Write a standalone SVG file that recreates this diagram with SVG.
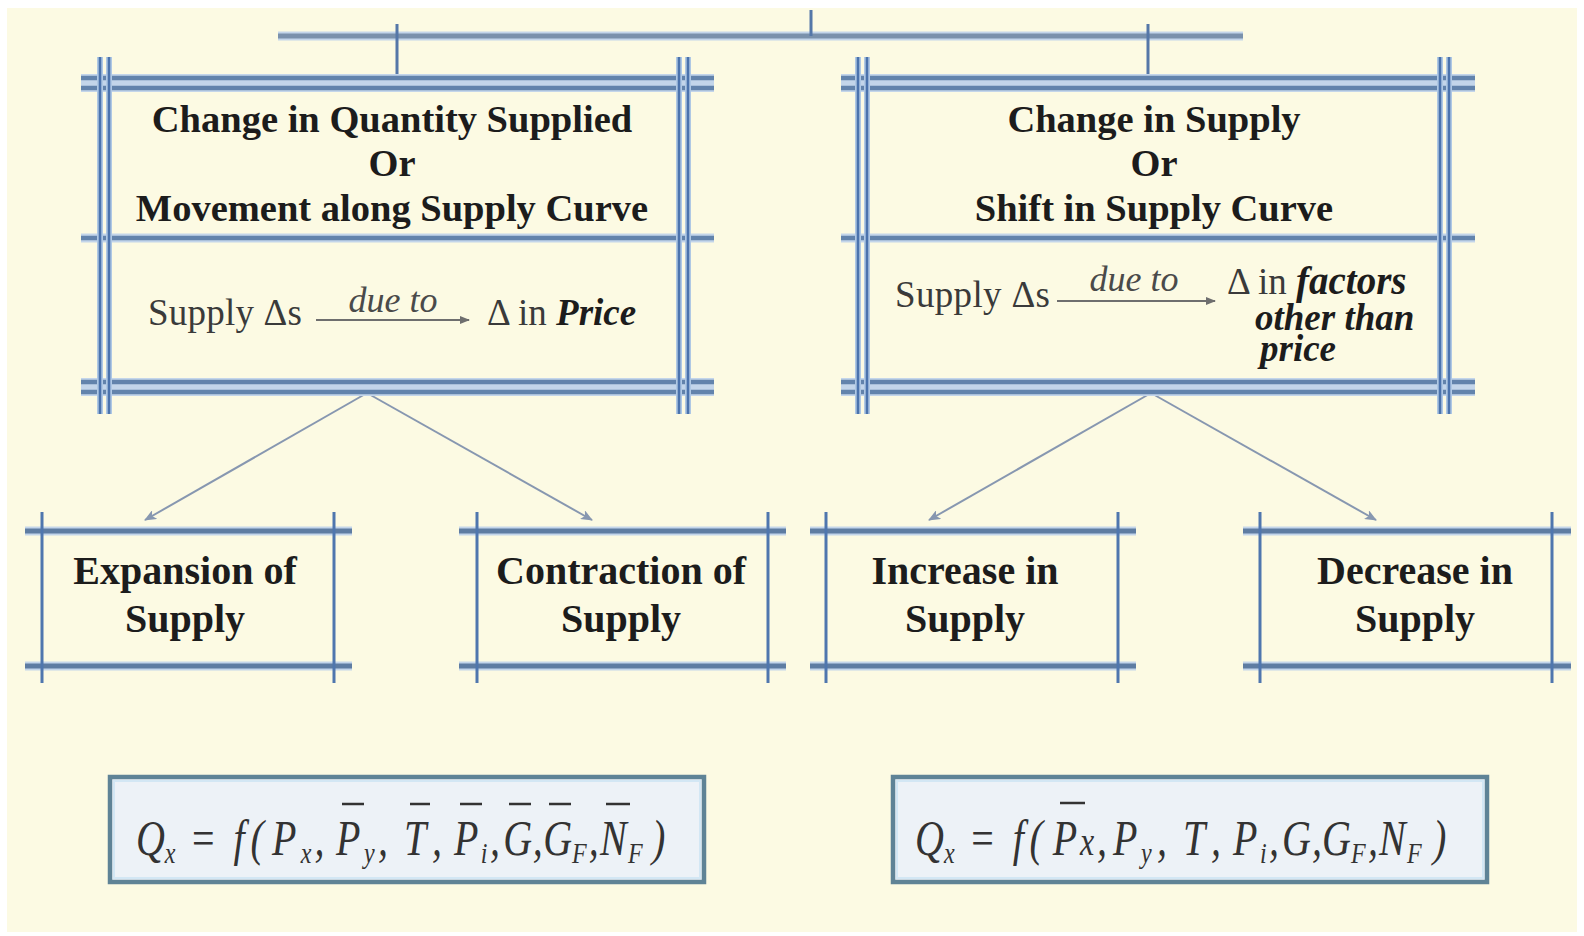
<svg xmlns="http://www.w3.org/2000/svg" width="1584" height="936" viewBox="0 0 1584 936">
<defs>
<style>
.bg{fill:#FCFAE3}
.hh{stroke:#C3D5EA;stroke-width:18;fill:none}
.hs{stroke:#C3D5EA;stroke-width:9;fill:none}
.hd{stroke:#6283AC;stroke-width:4.5;fill:none}
.vh{stroke:#AFC8E4;stroke-width:6;fill:none}
.vd{stroke:#4B73AD;stroke-width:2.6;fill:none}
.lh{stroke:#5E7CA2;stroke-width:5;fill:none}
.lv{stroke:#4F76AE;stroke-width:3;fill:none}
.conn{stroke:#8797B0;stroke-width:2;fill:none}
.top{stroke:#7A91AC;stroke-width:5;fill:none}
.drop{stroke:#5577A8;stroke-width:3;fill:none}
.t{font-family:"Liberation Serif","Times New Roman",serif;font-weight:bold;font-size:38.5px;fill:#1C1C1C;text-anchor:middle}
.s{font-family:"Liberation Serif","Times New Roman",serif;font-weight:bold;font-size:40px;fill:#1C1C1C;text-anchor:middle}
.r{font-family:"Liberation Serif","Times New Roman",serif;font-size:37px;fill:#3A3A3A}
.bi{font-weight:bold;font-style:italic;fill:#1C1C1C}
.it{font-family:"Liberation Serif","Times New Roman",serif;font-style:italic;font-size:36px;fill:#4A4A4A;text-anchor:middle}
.da{stroke:#6E6E6E;stroke-width:2.2;fill:none}
.fb{fill:#EDF2F7;stroke:#5F8396;stroke-width:4.5}
.fi{fill:none;stroke:#D3E7F4;stroke-width:2}
.f{font-family:"Liberation Serif","Times New Roman",serif;font-style:italic;font-size:50px;fill:#333333}
.fs{font-size:30px}
.fr{font-style:normal}
.ol{stroke:#333333;stroke-width:2.5}
</style>
<marker id="ah" markerWidth="12" markerHeight="10" refX="11" refY="5" orient="auto" markerUnits="userSpaceOnUse">
<path d="M0,0 L12,5 L0,10 L3,5 Z" fill="#8797B0"/>
</marker>
<marker id="ahs" markerWidth="10" markerHeight="8" refX="9" refY="4" orient="auto" markerUnits="userSpaceOnUse">
<path d="M0,0 L10,4 L0,8 Z" fill="#6E6E6E"/>
</marker>
</defs>
<rect x="0" y="0" width="1584" height="936" fill="#FFFFFF"/>
<rect class="bg" x="7" y="8" width="1570" height="924"/>

<g id="connectors">
<line class="hs" x1="278" y1="36" x2="1243" y2="36"/>
<line class="top" x1="278" y1="36" x2="1243" y2="36"/>
<line class="drop" x1="811" y1="10" x2="811" y2="36"/>
<line class="drop" x1="397" y1="24" x2="397" y2="76"/>
<line class="drop" x1="1148" y1="24" x2="1148" y2="76"/>
<line class="conn" x1="367" y1="393" x2="145" y2="520" marker-end="url(#ah)"/>
<line class="conn" x1="367" y1="393" x2="592" y2="520" marker-end="url(#ah)"/>
<line class="conn" x1="1151" y1="393" x2="929" y2="520" marker-end="url(#ah)"/>
<line class="conn" x1="1151" y1="393" x2="1376" y2="520" marker-end="url(#ah)"/>
</g>

<g id="box-quantity">
<line class="hh" x1="81" y1="83" x2="714" y2="83"/>
<line class="hd" x1="81" y1="78" x2="714" y2="78"/>
<line class="hd" x1="81" y1="88" x2="714" y2="88"/>
<line class="hs" x1="81" y1="238" x2="714" y2="238"/>
<line class="hd" x1="81" y1="238" x2="714" y2="238"/>
<line class="hh" x1="81" y1="387" x2="714" y2="387"/>
<line class="hd" x1="81" y1="382" x2="714" y2="382"/>
<line class="hd" x1="81" y1="392" x2="714" y2="392"/>
<line class="vh" x1="100" y1="57" x2="100" y2="414"/>
<line class="vh" x1="109" y1="57" x2="109" y2="414"/>
<line class="vh" x1="679" y1="57" x2="679" y2="414"/>
<line class="vh" x1="688" y1="57" x2="688" y2="414"/>
<line class="vd" x1="100" y1="57" x2="100" y2="414"/>
<line class="vd" x1="109" y1="57" x2="109" y2="414"/>
<line class="vd" x1="679" y1="57" x2="679" y2="414"/>
<line class="vd" x1="688" y1="57" x2="688" y2="414"/>
<text class="t" x="392" y="132">Change in Quantity Supplied</text>
<text class="t" x="392" y="176">Or</text>
<text class="t" x="392" y="221">Movement along Supply Curve</text>
<text class="r" x="148" y="325" textLength="154">Supply Δs</text>
<line class="da" x1="316" y1="320" x2="469" y2="320" marker-end="url(#ahs)"/>
<text class="it" x="393" y="312">due to</text>
<text class="r" x="487" y="325">Δ in <tspan class="bi">Price</tspan></text>
</g>

<g id="box-supply">
<line class="hh" x1="841" y1="83" x2="1475" y2="83"/>
<line class="hd" x1="841" y1="78" x2="1475" y2="78"/>
<line class="hd" x1="841" y1="88" x2="1475" y2="88"/>
<line class="hs" x1="841" y1="238" x2="1475" y2="238"/>
<line class="hd" x1="841" y1="238" x2="1475" y2="238"/>
<line class="hh" x1="841" y1="387" x2="1475" y2="387"/>
<line class="hd" x1="841" y1="382" x2="1475" y2="382"/>
<line class="hd" x1="841" y1="392" x2="1475" y2="392"/>
<line class="vh" x1="858" y1="57" x2="858" y2="414"/>
<line class="vh" x1="867" y1="57" x2="867" y2="414"/>
<line class="vh" x1="1440" y1="57" x2="1440" y2="414"/>
<line class="vh" x1="1449" y1="57" x2="1449" y2="414"/>
<line class="vd" x1="858" y1="57" x2="858" y2="414"/>
<line class="vd" x1="867" y1="57" x2="867" y2="414"/>
<line class="vd" x1="1440" y1="57" x2="1440" y2="414"/>
<line class="vd" x1="1449" y1="57" x2="1449" y2="414"/>
<text class="t" x="1154" y="132">Change in Supply</text>
<text class="t" x="1154" y="176">Or</text>
<text class="t" x="1154" y="221">Shift in Supply Curve</text>
<text class="r" x="895" y="307" textLength="155">Supply Δs</text>
<line class="da" x1="1057" y1="301" x2="1215" y2="301" marker-end="url(#ahs)"/>
<text class="it" x="1134" y="291">due to</text>
<text class="r" x="1227" y="294">Δ in <tspan class="bi" font-size="39">factors</tspan></text>
<text class="r bi" x="1255" y="330" font-size="38">other than</text>
<text class="r bi" x="1260" y="361" font-size="38">price</text>
</g>

<g id="box-expansion">
<line class="hs" x1="25" y1="531" x2="352" y2="531"/>
<line class="lh" x1="25" y1="531" x2="352" y2="531"/>
<line class="hs" x1="25" y1="666" x2="352" y2="666"/>
<line class="lh" x1="25" y1="666" x2="352" y2="666"/>
<line class="lv" x1="42" y1="512" x2="42" y2="683"/>
<line class="lv" x1="334" y1="512" x2="334" y2="683"/>
<text class="s" x="185" y="584">Expansion of</text>
<text class="s" x="185" y="632">Supply</text>
</g>

<g id="box-contraction">
<line class="hs" x1="459" y1="531" x2="786" y2="531"/>
<line class="lh" x1="459" y1="531" x2="786" y2="531"/>
<line class="hs" x1="459" y1="666" x2="786" y2="666"/>
<line class="lh" x1="459" y1="666" x2="786" y2="666"/>
<line class="lv" x1="477" y1="512" x2="477" y2="683"/>
<line class="lv" x1="768" y1="512" x2="768" y2="683"/>
<text class="s" x="621" y="584">Contraction of</text>
<text class="s" x="621" y="632">Supply</text>
</g>

<g id="box-increase">
<line class="hs" x1="810" y1="531" x2="1136" y2="531"/>
<line class="lh" x1="810" y1="531" x2="1136" y2="531"/>
<line class="hs" x1="810" y1="666" x2="1136" y2="666"/>
<line class="lh" x1="810" y1="666" x2="1136" y2="666"/>
<line class="lv" x1="826" y1="512" x2="826" y2="683"/>
<line class="lv" x1="1118" y1="512" x2="1118" y2="683"/>
<text class="s" x="965" y="584">Increase in</text>
<text class="s" x="965" y="632">Supply</text>
</g>

<g id="box-decrease">
<line class="hs" x1="1243" y1="531" x2="1571" y2="531"/>
<line class="lh" x1="1243" y1="531" x2="1571" y2="531"/>
<line class="hs" x1="1243" y1="666" x2="1571" y2="666"/>
<line class="lh" x1="1243" y1="666" x2="1571" y2="666"/>
<line class="lv" x1="1260" y1="512" x2="1260" y2="683"/>
<line class="lv" x1="1552" y1="512" x2="1552" y2="683"/>
<text class="s" x="1415" y="584">Decrease in</text>
<text class="s" x="1415" y="632">Supply</text>
</g>

<g id="formula-left">
<rect class="fb" x="110" y="777" width="594" height="105"/>
<rect class="fi" x="114" y="781" width="586" height="97"/>
<text class="f" transform="scale(0.8,1)" y="855"><tspan x="170">Q</tspan><tspan class="fs" x="206" y="863">x</tspan><tspan class="fr" x="240" y="855">=</tspan><tspan x="292">f</tspan><tspan x="313">(</tspan><tspan x="340">P</tspan><tspan class="fs" x="376" y="863">x</tspan><tspan x="393" y="855">,</tspan><tspan x="420">P</tspan><tspan class="fs" x="455" y="863">y</tspan><tspan x="472.5" y="855">,</tspan><tspan x="505">T</tspan><tspan x="540">,</tspan><tspan x="567.5">P</tspan><tspan class="fs" x="601" y="863">i</tspan><tspan x="612.5" y="855">,</tspan><tspan x="629">G</tspan><tspan x="666">,</tspan><tspan x="679">G</tspan><tspan class="fs" x="715" y="863">F</tspan><tspan x="736" y="855">,</tspan><tspan x="750">N</tspan><tspan class="fs" x="785" y="863">F</tspan><tspan x="815" y="855">)</tspan></text>
<line class="ol" x1="342" y1="804" x2="364" y2="804"/>
<line class="ol" x1="410" y1="804" x2="430" y2="804"/>
<line class="ol" x1="460" y1="804" x2="482" y2="804"/>
<line class="ol" x1="509" y1="804" x2="531" y2="804"/>
<line class="ol" x1="549" y1="804" x2="571" y2="804"/>
<line class="ol" x1="606" y1="804" x2="630" y2="804"/>
</g>

<g id="formula-right">
<rect class="fb" x="893" y="777" width="594" height="105"/>
<rect class="fi" x="897" y="781" width="586" height="97"/>
<text class="f" transform="scale(0.8,1)" y="855"><tspan x="1143.75">Q</tspan><tspan class="fs" x="1180" y="863">x</tspan><tspan class="fr" x="1214" y="855">=</tspan><tspan x="1266">f</tspan><tspan x="1287">(</tspan><tspan x="1316">P</tspan><tspan font-size="40" x="1350">x</tspan><tspan x="1371.25">,</tspan><tspan x="1391.25">P</tspan><tspan class="fs" x="1426.25" y="863">y</tspan><tspan x="1446.25" y="855">,</tspan><tspan x="1478.75">T</tspan><tspan x="1513.75">,</tspan><tspan x="1541.25">P</tspan><tspan class="fs" x="1575" y="863">i</tspan><tspan x="1586.25" y="855">,</tspan><tspan x="1602.5">G</tspan><tspan x="1640">,</tspan><tspan x="1652.5">G</tspan><tspan class="fs" x="1688.75" y="863">F</tspan><tspan x="1710" y="855">,</tspan><tspan x="1723.75">N</tspan><tspan class="fs" x="1758.75" y="863">F</tspan><tspan x="1791.25" y="855">)</tspan></text>
<line class="ol" x1="1060" y1="803" x2="1085" y2="803"/>
</g>
</svg>
